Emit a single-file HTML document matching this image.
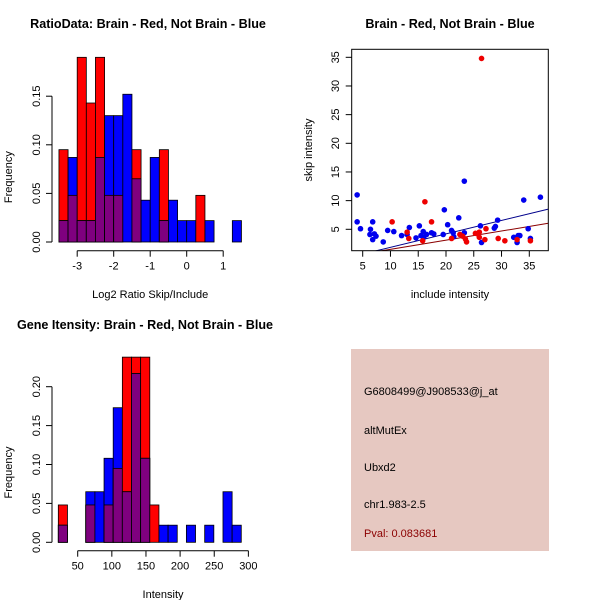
<!DOCTYPE html>
<html><head><meta charset="utf-8"><style>
body{margin:0;background:#fff}
svg{display:block;font-family:"Liberation Sans",sans-serif}
</style></head><body>
<svg id="c" width="600" height="600" viewBox="0 0 600 600">
<rect width="600" height="600" fill="#fff"/>
<text x="148" y="28" font-size="12.6" font-weight="bold" text-anchor="middle">RatioData: Brain - Red, Not Brain - Blue</text>
<text x="450" y="28" font-size="12.6" font-weight="bold" text-anchor="middle">Brain - Red, Not Brain - Blue</text>
<text x="145" y="329" font-size="12.6" font-weight="bold" text-anchor="middle">Gene Itensity: Brain - Red, Not Brain - Blue</text>
<g id="h1"></g>
<g id="h2"></g>
<g id="sc"></g>
<g>
<rect x="351" y="349" width="198" height="202" fill="#E6C8C1"/>
<text x="364" y="395" font-size="11">G6808499@J908533@j_at</text>
<text x="364" y="434" font-size="11">altMutEx</text>
<text x="364" y="471" font-size="11">Ubxd2</text>
<text x="364" y="508" font-size="11">chr1.983-2.5</text>
<text x="364" y="537" font-size="11" fill="#8B0000">Pval: 0.083681</text>
</g>
</svg>
<script>
// Ratio histogram data
const h1Start = -3.5, h1Width = 0.25;
const h1Red  = [0.095,0.048,0.19,0.143,0.19,0.048,0.048,0,0.095,0,0,0.095,0,0,0,0.048,0,0,0,0];
const h1Blue = [0.022,0.087,0.022,0.022,0.087,0.13,0.13,0.152,0.065,0.043,0.087,0.022,0.043,0.022,0.022,0,0.022,0,0,0.022];
const h1XTicks = [-3,-2,-1,0,1];
const h1YTicks = [0,0.05,0.10,0.15];
const h1YLabels = ["0.00","0.05","0.10","0.15"];
// Intensity histogram data
const h2Start = 21.6, h2Width = 13.4;
const h2Red  = [0.048,0,0,0.048,0,0.048,0.095,0.238,0.238,0.238,0.048,0,0,0,0,0,0,0,0,0];
const h2Blue = [0.022,0,0,0.065,0.065,0.108,0.173,0.065,0.217,0.108,0,0.022,0.022,0,0.022,0,0.022,0,0.065,0.022];
const h2XTicks = [50,100,150,200,250,300];
const h2YTicks = [0,0.05,0.10,0.15,0.20];
const h2YLabels = ["0.00","0.05","0.10","0.15","0.20"];
// Scatter data
const blueX = [4,4,4.6,6.3,6.4,6.8,6.8,7.1,7.4,8.7,9.5,10.6,12,13,13.4,14.6,15.2,15.5,15.9,16,16.5,17.4,17.8,19.5,19.7,20.3,21,21.3,21.4,22.3,23.3,23.3,26.2,26.4,28.7,28.9,29.3,32.2,32.8,33,33.3,34,34.8,35.2,37];
const blueY = [11,6.3,5.1,4.1,5,6.3,3.2,4.2,3.8,2.8,4.8,4.6,3.9,4.1,5.3,3.5,5.6,3.9,4.6,3.6,4.1,4.4,4.2,4.1,8.4,5.8,4.8,4.4,3.7,7,13.4,4.4,5.6,2.7,5.2,5.5,6.6,3.6,2.7,3.9,3.9,10.1,5.1,3.4,10.6];
const redX = [10.3,13,13.3,15.8,16.2,17.4,21,22.5,23,23.5,23.7,25.3,25.7,26,26,26.4,27,27.2,29.4,30.6,32.8,35.2];
const redY = [6.3,4.5,3.4,3,9.8,6.3,3.4,4.1,3.8,3.3,2.8,4.3,4.2,4.5,3.6,34.8,3.2,5.1,3.4,3,3.2,3];
const blueFit = [-0.48,0.234];
const redFit = [-0.1,0.16];
const scXTicks = [5,10,15,20,25,30,35];
const scYTicks = [5,10,15,20,25,30,35];

const NS="http://www.w3.org/2000/svg";
function mk(p,t,a){const e=document.createElementNS(NS,t);for(const k in a)e.setAttribute(k,a[k]);p.appendChild(e);return e;}

function hist(g,start,w,red,blue,x0,xk,y0,yk,xt,yt,ylab,xAxisY,xlabel,xlabY){
  const X=v=>x0+v*xk, Y=v=>y0-v*yk;
  for(let i=0;i<red.length;i++){
    const l=X(start+i*w), r=X(start+(i+1)*w);
    const rv=red[i], bv=blue[i], m=Math.min(rv,bv);
    if(rv>0){const e=mk(g,'rect',{x:l,y:Y(rv),width:r-l,height:Y(0)-Y(rv),fill:'#FF0000',stroke:'#000','stroke-width':0.8});
      
      }
    if(bv>0){const e=mk(g,'rect',{x:l,y:Y(bv),width:r-l,height:Y(0)-Y(bv),fill:'#0000FF',stroke:'#000','stroke-width':0.8});
      
      }
    if(m>0){const e=mk(g,'rect',{x:l,y:Y(m),width:r-l,height:Y(0)-Y(m),fill:'#7F007F',stroke:'#000','stroke-width':0.8});
      
      }
  }
  const ya=mk(g,'g',{});
  
  
  mk(ya,'line',{x1:52,x2:52,y1:Y(yt[0]),y2:Y(yt[yt.length-1]),stroke:'#000'});
  yt.forEach((v,i)=>{mk(ya,'line',{x1:46,x2:52,y1:Y(v),y2:Y(v),stroke:'#000'});
    const t=mk(ya,'text',{x:0,y:0,'font-size':11,'text-anchor':'middle',transform:`translate(40,${Y(v)}) rotate(-90)`});t.textContent=ylab[i];});
  const yl=mk(g,'text',{'font-size':11,'text-anchor':'middle',transform:`translate(12,${(Y(0)+Y(yt[yt.length-1]))/2+8}) rotate(-90)`});
  yl.textContent='Frequency';
  
  
  const xa=mk(g,'g',{});
  
  
  mk(xa,'line',{x1:X(xt[0]),x2:X(xt[xt.length-1]),y1:xAxisY,y2:xAxisY,stroke:'#000'});
  xt.forEach(v=>{mk(xa,'line',{x1:X(v),x2:X(v),y1:xAxisY,y2:xAxisY+6,stroke:'#000'});
    const t=mk(xa,'text',{x:X(v),y:xAxisY+19,'font-size':11,'text-anchor':'middle'});t.textContent=String(v);});
  const xl=mk(g,'text',{x:(X(xt[0])+X(xt[xt.length-1]))/2,y:xlabY,'font-size':11,'text-anchor':'middle'});
  xl.textContent=xlabel;
  
  
}
hist(document.getElementById('h1'),h1Start,h1Width,h1Red,h1Blue,186.7,36.5,242,972,h1XTicks,h1YTicks,h1YLabels,250.7,'Log2 Ratio Skip/Include',298);
hist(document.getElementById('h2'),h2Start,h2Width,h2Red,h2Blue,77.7-50*0.6827,0.6827,542.3,778,h2XTicks,h2YTicks,h2YLabels,550.7,'Intensity',598);

(function(){
  const g=document.getElementById('sc');
  const L=351.7,R=548.3,T=49.3,B=250.7;
  const X=v=>362.7+(v-5)*5.553, Y=v=>229.3-(v-5)*5.733;
  mk(g,'defs',{}).innerHTML='<clipPath id="cp"><rect x="351.7" y="49.3" width="196.6" height="201.4"/></clipPath>';
  const x0=(L-362.7)/5.553+5, x1=(R-362.7)/5.553+5;
  const lb=mk(g,'line',{x1:X(x0),y1:Y(blueFit[0]+blueFit[1]*x0),x2:X(x1),y2:Y(blueFit[0]+blueFit[1]*x1),stroke:'#00008B','clip-path':'url(#cp)'});
  
  
  const lr=mk(g,'line',{x1:X(x0),y1:Y(redFit[0]+redFit[1]*x0),x2:X(x1),y2:Y(redFit[0]+redFit[1]*x1),stroke:'#8B0000','clip-path':'url(#cp)'});
  
  
  blueX.forEach((v,i)=>{const c=mk(g,'circle',{cx:X(v),cy:Y(blueY[i]),r:2.8,fill:'#0000EE','clip-path':'url(#cp)'});
    
    });
  redX.forEach((v,i)=>{const c=mk(g,'circle',{cx:X(v),cy:Y(redY[i]),r:2.8,fill:'#EE0000','clip-path':'url(#cp)'});
    
    });
  const box=mk(g,'rect',{x:L,y:T,width:R-L,height:B-T,fill:'none',stroke:'#000'});
  
  
  scXTicks.forEach(v=>{mk(g,'line',{x1:X(v),x2:X(v),y1:B,y2:B+6,stroke:'#000'});
    const t=mk(g,'text',{x:X(v),y:B+19,'font-size':11,'text-anchor':'middle'});t.textContent=v;});
  scYTicks.forEach(v=>{mk(g,'line',{x1:L-6,x2:L,y1:Y(v),y2:Y(v),stroke:'#000'});
    const t=mk(g,'text',{'font-size':11,'text-anchor':'middle',transform:`translate(339,${Y(v)}) rotate(-90)`});t.textContent=v;});
  const xl=mk(g,'text',{x:450,y:298,'font-size':11,'text-anchor':'middle'});xl.textContent='include intensity';
  
  
  const yl=mk(g,'text',{'font-size':11,'text-anchor':'middle',transform:'translate(312,150) rotate(-90)'});yl.textContent='skip intensity';
  
  
})();
</script>
</body></html>
